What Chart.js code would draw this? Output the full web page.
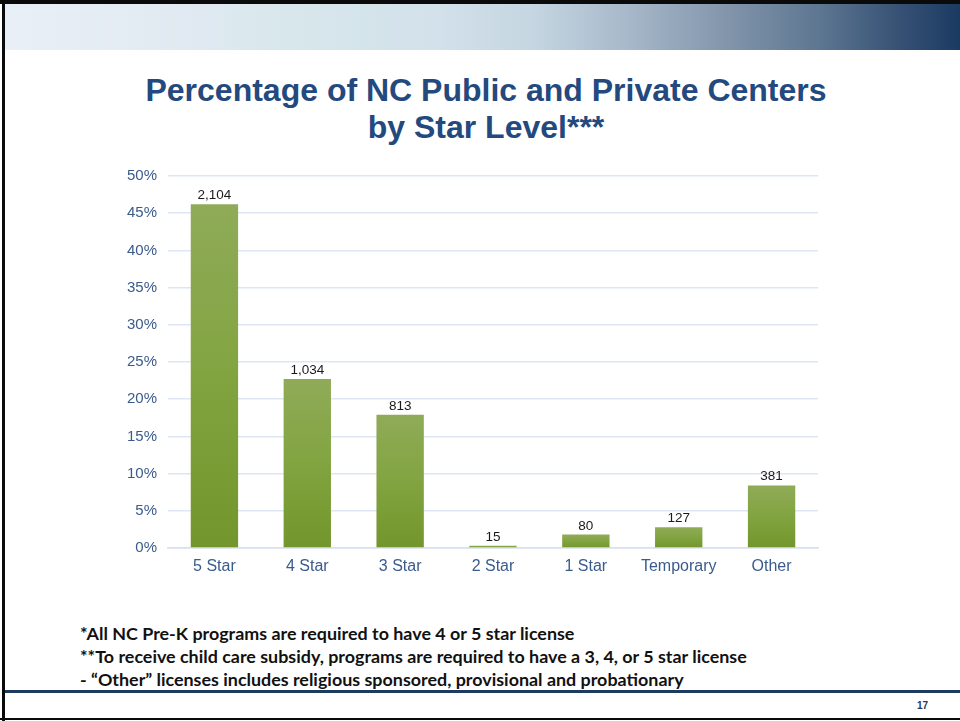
<!DOCTYPE html>
<html>
<head>
<meta charset="utf-8">
<script src="https://cdn.jsdelivr.net/npm/chart.js@4.4.1/dist/chart.umd.min.js"></script>
<style>
  html, body { margin: 0; padding: 0; background: #fff; }
  body { width: 960px; height: 721px; position: relative; overflow: hidden; font-family: Arial, "Liberation Sans", "DejaVu Sans"; }
  .frame-top { position: absolute; left: 0; top: 0; width: 960px; height: 4px; background: #0a0a0a; }
  .frame-left { position: absolute; left: 2px; top: 0; width: 3px; height: 721px; background: #0a0a0a; }
  .frame-bottom { position: absolute; left: 0; top: 718px; width: 960px; height: 2px; background: #0a0a0a; }
  .header { position: absolute; left: 5px; top: 4px; width: 955px; height: 46px;
    background: linear-gradient(to right, #e9eff7 0%, #e0e9f1 20%, #d7e7ec 30%, #d2e1ea 45%, #c6d6e2 55%, #a7b9ca 65%, #8497ad 75%, #5e7792 85%, #3a5477 93%, #1b3a62 100%); }
  .title { position: absolute; left: 86px; width: 800px; top: 72px; text-align: center;
    color: #23497e; font-weight: bold; font-size: 32px; line-height: 37px; }
  #wrap { position: absolute; left: 0; top: 156px; width: 960px; height: 432px; }
  .notes { position: absolute; left: 80px; top: 622px; font-family: Lato, "Open Sans", sans-serif;
    font-weight: bold; font-size: 17.9px; line-height: 23px; color: #111; }
  .rule { position: absolute; left: 5px; top: 690px; width: 955px; height: 3px; background: #1f3a60; }
  .page { position: absolute; left: 917px; top: 700px; font-size: 10px; font-weight: bold; color: #1f3864; }
</style>
</head>
<body>
<div class="frame-top"></div>
<div class="header"></div>
<div class="frame-left"></div>
<div class="title">Percentage of NC Public and Private Centers<br>by Star Level***</div>
<div id="wrap"><canvas id="bar-chart"></canvas></div>
<div class="notes">
  *All NC Pre-K programs are required to have 4 or 5 star license<br>
  **To receive child care subsidy, programs are required to have a 3, 4, or 5 star license<br>
  - “Other” licenses includes religious sponsored, provisional and probationary
</div>
<div class="rule"></div>
<div class="page">17</div>
<div class="frame-bottom"></div>

<script>
// chart data
const categories = ["5 Star", "4 Star", "3 Star", "2 Star", "1 Star", "Temporary", "Other"];
const percentValues = [46.2, 22.7, 17.9, 0.3, 1.8, 2.8, 8.4];
const countLabels = ["2,104", "1,034", "813", "15", "80", "127", "381"];
const yTicks = [0, 5, 10, 15, 20, 25, 30, 35, 40, 45, 50];

const FONT = "Arial, 'Liberation Sans', 'DejaVu Sans'";

// gradient for each bar, from its top down to the baseline
function barGradient(context) {
  const chart = context.chart;
  if (!chart.chartArea) return "#7f9e3f";
  const y = chart.scales.y;
  const top = y.getPixelForValue(context.raw);
  const bottom = y.getPixelForValue(0);
  const g = chart.ctx.createLinearGradient(0, top, 0, bottom + 0.01);
  g.addColorStop(0, "#8fab58");
  g.addColorStop(0.5, "#82a440");
  g.addColorStop(1, "#72952c");
  return g;
}

// count labels above bars
const countLabelPlugin = {
  id: "countLabels",
  afterDatasetsDraw(chart) {
    const ctx = chart.ctx;
    const meta = chart.getDatasetMeta(0);
    ctx.save();
    ctx.font = "13.5px " + FONT;
    ctx.fillStyle = "#1a1a1a";
    ctx.textAlign = "center";
    ctx.textBaseline = "bottom";
    meta.data.forEach((bar, i) => {
      ctx.fillText(countLabels[i], bar.x, bar.y - 2);
    });
    ctx.restore();
  }
};

let config = {
  type: "bar",
  data: {
    labels: categories,
    datasets: [
      {
        label: "Percentage",
        data: percentValues,
        backgroundColor: barGradient,
        barPercentage: 0.51,
        categoryPercentage: 1.0,
      },
    ],
  },
  options: {
    maintainAspectRatio: false,
    responsive: true,
    animation: false,
    layout: { padding: { left: 108, right: 142, top: 15, bottom: 0 } },
    plugins: {
      legend: { display: false },
      tooltip: { enabled: false },
      title: { display: false },
    },
    scales: {
      x: {
        grid: { display: false, drawTicks: false },
        border: { color: "#d6e0ef", width: 1.5 },
        ticks: {
          padding: 9,
          color: "#3a5b8c",
          font: { family: FONT, size: 16 },
        },
        afterFit(scale) { scale.height = 40; },
      },
      y: {
        min: 0,
        max: 50,
        afterBuildTicks(scale) { scale.ticks = yTicks.map(v => ({ value: v })); },
        grid: { color: "#dde6f3", lineWidth: 1.5, drawTicks: false },
        border: { display: false },
        ticks: {
          padding: 11,
          color: "#3a5b8c",
          font: { family: FONT, size: 15 },
          callback: (v) => v + "%",
        },
        afterFit(scale) { scale.width = 60; },
      },
    },
  },
  plugins: [countLabelPlugin],
};

let ctx = document.getElementById("bar-chart").getContext("2d");
window.myBarChart = new Chart(ctx, config);
</script>
</body>
</html>
